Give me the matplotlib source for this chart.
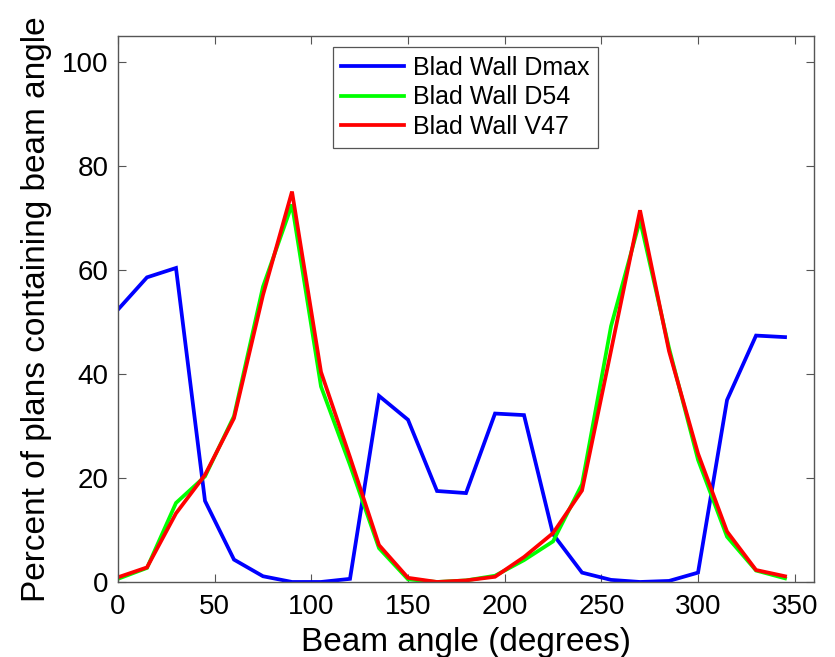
import matplotlib.pyplot as plt
import numpy as np

plt.rcParams['font.family'] = ['Liberation Sans', 'DejaVu Sans']

angles = np.arange(0, 360, 15)

dmax = [52.4, 58.6, 60.4, 15.6, 4.3, 1.1, 0.0, 0.0, 0.6, 35.8, 31.2, 17.5,
        17.1, 32.4, 32.1, 9.2, 1.8, 0.4, 0.0, 0.2, 1.8, 35.0, 47.4, 47.1]
d54 = [0.6, 2.7, 15.2, 20.3, 31.9, 56.8, 72.6, 37.6, 22.5, 6.5, 0.5, 0.0,
       0.3, 1.2, 4.2, 7.8, 18.8, 49.2, 69.6, 45.0, 23.5, 8.7, 2.2, 0.7]
v47 = [0.9, 2.8, 13.2, 20.6, 31.5, 55.2, 75.1, 40.4, 24.0, 7.1, 0.8, 0.0,
       0.3, 1.0, 4.8, 9.4, 17.6, 44.5, 71.5, 44.4, 24.7, 9.7, 2.3, 1.1]

series = [
    ('Blad Wall Dmax', dmax, '#0000ff'),
    ('Blad Wall D54', d54, '#00ff00'),
    ('Blad Wall V47', v47, '#ff0000'),
]

fig = plt.figure(figsize=(8.35, 6.57), dpi=100)
ax = fig.add_axes([0.1413, 0.1142, 0.8336, 0.8308])

for label, values, color in series:
    ax.plot(angles, values, color=color, linewidth=2.7, label=label,
            solid_joinstyle='miter')

ax.set_xlim(0, 360)
ax.set_ylim(0, 105)
ax.set_xticks(np.arange(0, 351, 50))
ax.set_yticks(np.arange(0, 101, 20))
ax.tick_params(direction='in', top=True, right=True, length=6,
               width=0.8, color='#555555', labelsize=20)
ax.tick_params(axis='x', pad=9)
ax.tick_params(axis='y', pad=7)
for spine in ax.spines.values():
    spine.set_color('#555555')
    spine.set_linewidth(1.0)

ax.set_xlabel('Beam angle (degrees)', fontsize=24, labelpad=5)
ax.set_ylabel('Percent of plans containing beam angle', fontsize=24, labelpad=7)

leg = ax.legend(loc='upper center', bbox_to_anchor=(0.499, 0.98), fontsize=18,
                fancybox=False, framealpha=1, edgecolor='#555555',
                handlelength=2.5, borderpad=0.35, labelspacing=0.22,
                handletextpad=0.35, borderaxespad=0)
leg.get_frame().set_linewidth(0.9)

fig.savefig('out.png', dpi=100)
